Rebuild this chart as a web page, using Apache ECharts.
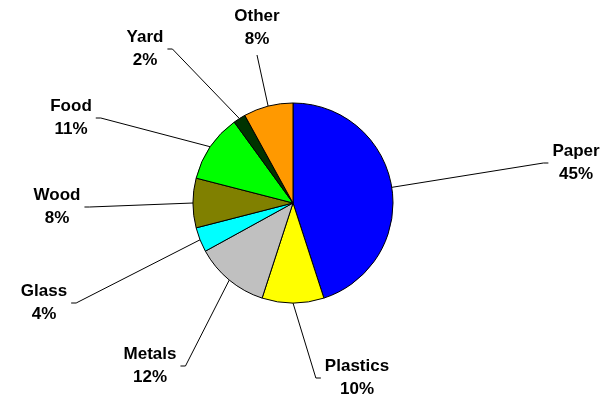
<!DOCTYPE html>
<html>
<head>
<meta charset="utf-8">
<script src="https://cdn.jsdelivr.net/npm/echarts@6/dist/echarts.min.js"></script>
<style>
  html, body { margin: 0; padding: 0; background: #fff; }
  #chart { width: 602px; height: 396px; }
</style>
</head>
<body>
<div id="chart"></div>
<script>
// Waste composition by material (percent of total)
const categories = ['Paper', 'Plastics', 'Metals', 'Glass', 'Wood', 'Food', 'Yard', 'Other'];
const shares = [45, 10, 12, 4, 8, 11, 2, 8];
const sliceColors = ['#0000FF', '#FFFF00', '#C0C0C0', '#00FFFF', '#808000', '#00FF00', '#003300', '#FF9900'];

// Label placement: centre of each two-line label and the side its leader line meets
const labelCenters = [[576, 163], [357, 378], [150, 366], [44, 303], [57, 207], [71, 118], [145, 49], [257, 28]];
const leaderSide = ['left', 'left', 'right', 'right', 'right', 'right', 'right', 'bottom'];

const pieCenter = [293, 203];
const pieRadius = 100;

// Point on the rim at the middle of slice i (start at 12 o'clock, clockwise)
function rimMid(i) {
  const total = shares.reduce((a, b) => a + b, 0);
  let before = 0;
  for (let k = 0; k < i; k++) before += shares[k];
  const frac = (before + shares[i] / 2) / total;
  const ang = frac * Math.PI * 2;
  return [pieCenter[0] + pieRadius * Math.sin(ang), pieCenter[1] - pieRadius * Math.cos(ang)];
}

const chart = echarts.init(document.getElementById('chart'), null, { renderer: 'canvas' });

chart.setOption({
  backgroundColor: '#ffffff',
  animation: false,
  series: [{
    type: 'pie',
    center: pieCenter,
    radius: pieRadius,
    startAngle: 90,
    clockwise: true,
    avoidLabelOverlap: false,
    data: categories.map((name, i) => ({
      name: name,
      value: shares[i],
      itemStyle: { color: sliceColors[i] }
    })),
    itemStyle: { borderColor: '#000000', borderWidth: 1 },
    emphasis: { disabled: true },
    label: {
      show: true,
      formatter: '{b}\n{c}%',
      color: '#000000',
      fontFamily: 'Arial, "Liberation Sans", sans-serif',
      fontWeight: 'bold',
      fontSize: 17,
      lineHeight: 23,
      align: 'center'
    },
    labelLine: {
      show: true,
      length: 10,
      length2: 10,
      smooth: false,
      lineStyle: { color: '#000000', width: 1 }
    },
    labelLayout: function (params) {
      const i = params.dataIndex;
      const c = labelCenters[i];
      const w = params.labelRect.width;
      const h = params.labelRect.height;
      const start = rimMid(i);
      let bend, end;
      if (leaderSide[i] === 'left') {
        end = [c[0] - w / 2 - 4, c[1]];
        bend = [end[0] - 5, c[1]];
      } else if (leaderSide[i] === 'right') {
        end = [c[0] + w / 2 + 4, c[1]];
        bend = [end[0] + 5, c[1]];
      } else {
        end = [c[0], c[1] + h / 2 + 4];
        bend = end.slice();
      }
      return {
        x: c[0],
        y: c[1],
        align: 'center',
        verticalAlign: 'middle',
        labelLinePoints: [start, bend, end]
      };
    }
  }]
});
</script>
</body>
</html>
